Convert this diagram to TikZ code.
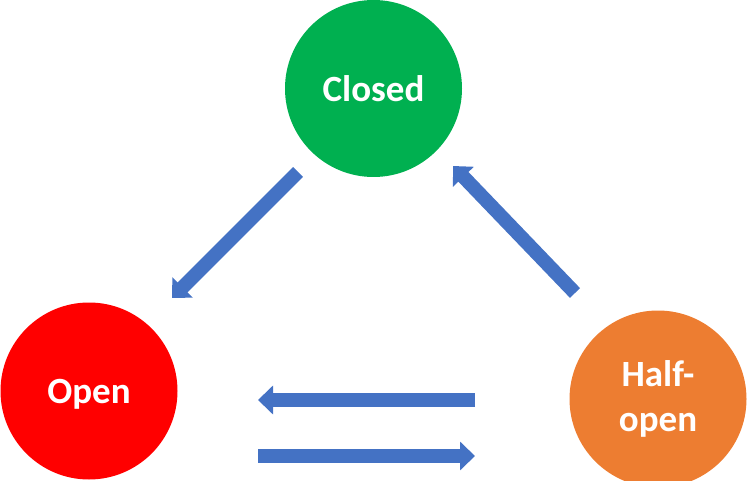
\documentclass[tikz,border=0pt]{standalone}
\usepackage{fontspec}
\setmainfont{Carlito}
\usetikzlibrary{arrows.meta}
\definecolor{cgreen}{HTML}{00B050}
\definecolor{cred}{HTML}{FF0000}
\definecolor{corange}{HTML}{ED7D31}
\definecolor{cblue}{HTML}{4472C4}
\begin{document}
\begin{tikzpicture}[x=1pt,y=-1pt,
  state/.style={circle,minimum size=177pt,inner sep=0pt,text=white,
    font=\fontsize{37}{45}\selectfont\bfseries,align=center},
  flow/.style={draw=cblue,line width=14pt,
    -{Triangle[length=15pt,width=28pt]}}]
\useasboundingbox (0,0) rectangle (747,481);
\node[state,fill=cgreen] (closed) at (373.5,88.5) {Closed};
\node[state,fill=cred,text depth=0pt] (open) at (89,391) {Open};
\node[state,fill=corange] (half) at (658,399) {Half-\\open};
\coordinate (a1s) at (298,172);
\coordinate (a1e) at (172,298);
\coordinate (a2s) at (575,293);
\coordinate (a2e) at (453,166);
\coordinate (a3s) at (475,400);
\coordinate (a3e) at (258,400);
\coordinate (a4s) at (258,456);
\coordinate (a4e) at (475,456);
\draw[flow] (a1s) -- (a1e);
\draw[flow] (a2s) -- (a2e);
\draw[flow] (a3s) -- (a3e);
\draw[flow] (a4s) -- (a4e);
\end{tikzpicture}
\end{document}
